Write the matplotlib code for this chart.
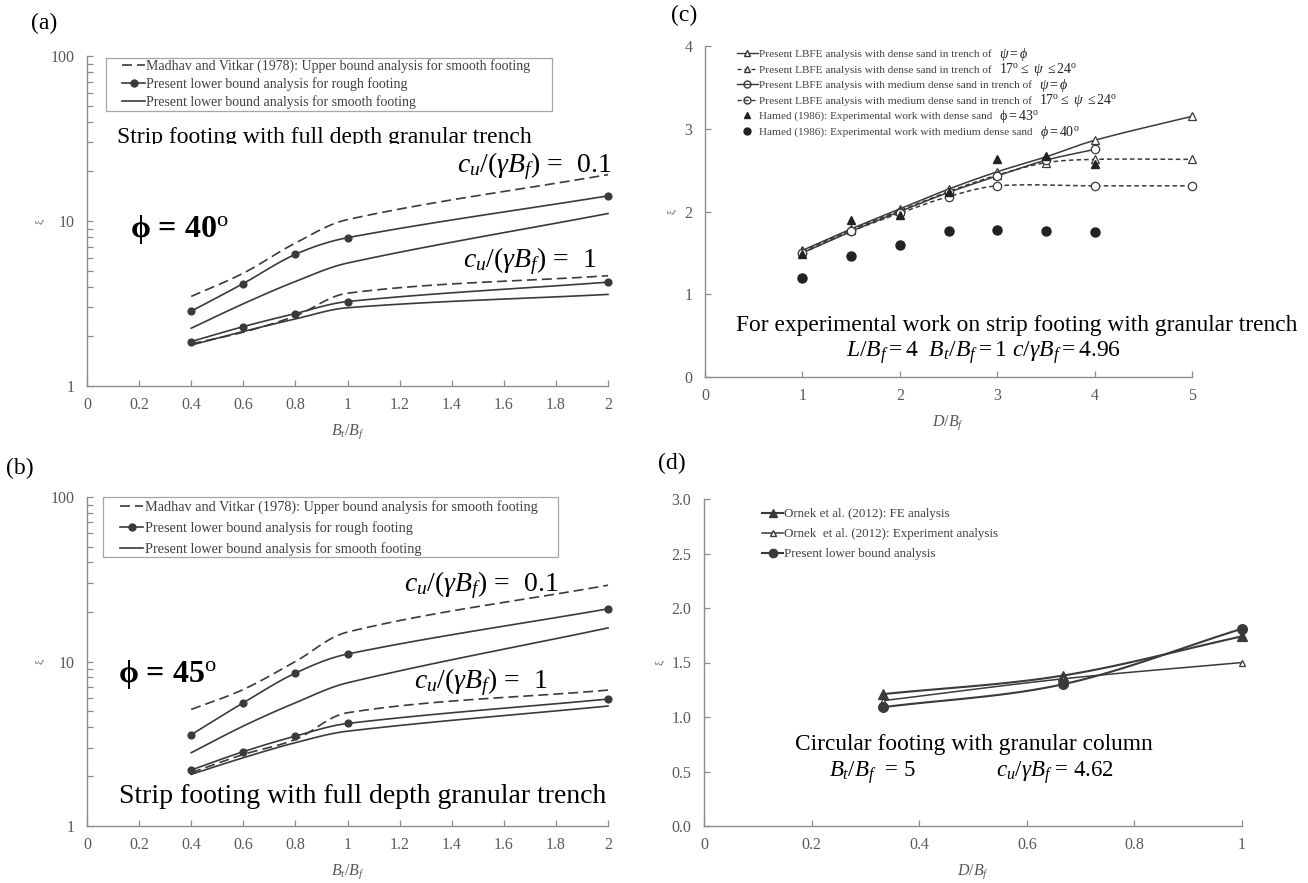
import numpy as np
import matplotlib
matplotlib.use("Agg")
import matplotlib.pyplot as plt
from matplotlib.lines import Line2D
from matplotlib.patches import Rectangle
from matplotlib.transforms import Bbox, TransformedBbox

plt.rcParams['font.family'] = ['Liberation Serif', 'DejaVu Serif']
plt.rcParams['mathtext.fontset'] = 'custom'
plt.rcParams['mathtext.rm'] = 'Liberation Serif'
plt.rcParams['mathtext.it'] = 'Liberation Serif:italic'
plt.rcParams['mathtext.bf'] = 'Liberation Serif:bold'

# ---------------- data ----------------
# (a) phi = 40
xa = [0.4, 0.6, 0.8, 1.0, 2.0]
a_upper_01 = [3.49, 4.83, 7.35, 10.2, 19.1]
a_rough_01 = [2.84, 4.18, 6.28, 7.92, 14.2]
a_smooth_01 = [2.24, 3.15, 4.30, 5.56, 11.1]
a_upper_1 = [1.80, 2.12, 2.66, 3.65, 4.66]
a_rough_1 = [1.86, 2.29, 2.75, 3.25, 4.26]
a_smooth_1 = [1.77, 2.14, 2.55, 2.98, 3.59]

# (b) phi = 45
xb = [0.4, 0.6, 0.8, 1.0, 2.0]
b_upper_01 = [5.11, 6.76, 10.0, 15.1, 29.1]
b_rough_01 = [3.59, 5.61, 8.5, 11.1, 20.9]
b_smooth_01 = [2.79, 4.05, 5.61, 7.42, 16.0]
b_upper_1 = [2.11, 2.72, 3.36, 4.88, 6.70]
b_rough_1 = [2.19, 2.83, 3.52, 4.20, 5.91]
b_smooth_1 = [2.06, 2.60, 3.21, 3.77, 5.36]

# (c) experimental comparison
xc_dense = [1, 1.5, 2, 2.5, 3, 3.5, 4, 5]
c_dense_psi = [1.53, 1.79, 2.03, 2.27, 2.48, 2.66, 2.86, 3.15]
c_dense_1724 = [1.52, 1.78, 2.01, 2.24, 2.44, 2.59, 2.63, 2.63]
xc_med_psi = [1, 1.5, 2, 2.5, 3, 3.5, 4]
c_med_psi = [1.50, 1.76, 2.00, 2.23, 2.43, 2.62, 2.75]
xc_med_1724 = [1, 1.5, 2, 2.5, 3, 4, 5]
c_med_1724 = [1.50, 1.76, 1.98, 2.18, 2.31, 2.31, 2.31]
xc_exp = [1, 1.5, 2, 2.5, 3, 3.5, 4]
c_hamed_dense = [1.49, 1.90, 1.96, 2.24, 2.64, 2.67, 2.58]
c_hamed_med = [1.20, 1.46, 1.59, 1.76, 1.78, 1.77, 1.75]

# (d) circular footing
xd = [0.333, 0.667, 1.0]
d_fe = [1.21, 1.38, 1.74]
d_exp = [1.15, 1.35, 1.50]
d_present = [1.09, 1.30, 1.81]

legend_ab = ['Madhav and Vitkar (1978): Upper bound analysis for smooth footing',
             'Present lower bound analysis for rough footing',
             'Present lower bound analysis for smooth footing']
legend_c = ['Present LBFE analysis with dense sand in trench of',
            'Present LBFE analysis with dense sand in trench of',
            'Present LBFE analysis with medium dense sand in trench of',
            'Present LBFE analysis with medium dense sand in trench of',
            'Hamed (1986): Experimental work with dense sand',
            'Hamed (1986): Experimental work with medium dense sand']
legend_c_math = [r'$\psi = \phi$', r'$17^{\rm o} \leq\ \psi\ \leq 24^{\rm o}$',
                 r'$\psi = \phi$', r'$17^{\rm o} \leq\ \psi\ \leq 24^{\rm o}$',
                 r'$\mathrm{\phi} = 43^{\rm o}$', r'$\phi = 40^{\rm o}$']
legend_d = ['Ornek et al. (2012): FE analysis',
            'Ornek  et al. (2012): Experiment analysis',
            'Present lower bound analysis']

# ---------------- style ----------------
LC = '#3a3a3a'
AX = '#8c8c8c'
TK = '#595959'
W, H = 1308, 883
fig = plt.figure(figsize=(W / 100, H / 100), dpi=100)


def add_axes(x0, x1, ytop, ybot):
    return fig.add_axes([x0 / W, (H - ybot) / H, (x1 - x0) / W, (ybot - ytop) / H])


def style(ax):
    for s in ['top', 'right']:
        ax.spines[s].set_visible(False)
    for s in ['left', 'bottom']:
        ax.spines[s].set_color(AX)
        ax.spines[s].set_linewidth(1.0)
    ax.tick_params(which='both', direction='in', length=4, width=0.9, color=AX,
                   labelcolor=TK, labelsize=11.5)
    ax.tick_params(axis='x', pad=8)
    ax.tick_params(axis='y', pad=9)


def smooth(ax, x, y, n=30):
    """Smoothed (Bezier) rendering of the line through the data points, in display space."""
    pts = ax.transData.transform(np.column_stack([x, y]))
    P = np.vstack([pts[0], pts, pts[-1]])
    out = [pts[:1]]
    t = np.linspace(0, 1, n)[1:, None]
    for i in range(1, len(P) - 2):
        p0, p1, p2, p3 = P[i - 1], P[i], P[i + 1], P[i + 2]
        d01 = np.hypot(*(p1 - p0))
        d12 = np.hypot(*(p2 - p1))
        d23 = np.hypot(*(p3 - p2))
        c1 = p1 + (p2 - p0) * d12 / (d01 + d12) / 3
        c2 = p2 - (p3 - p1) * d12 / (d12 + d23) / 3
        seg = (1 - t) ** 3 * p1 + 3 * (1 - t) ** 2 * t * c1 + 3 * (1 - t) * t ** 2 * c2 + t ** 3 * p2
        out.append(seg)
    c = ax.transData.inverted().transform(np.vstack(out))
    return c[:, 0], c[:, 1]


def sline(ax, x, y, ls='-', marker=None, ms=5, mfc=LC, lw=1.2):
    sx, sy = smooth(ax, x, y)
    ax.plot(sx, sy, ls=ls, color=LC, lw=lw, clip_on=False)
    if marker:
        ax.plot(x, y, ls='none', marker=marker, ms=ms, mfc=mfc, mec=LC, mew=0.9, clip_on=False)


DASH = (0, (6, 3))


def log_panel(ax, x, up01, r01, s01, up1, r1, s1, phi_txt, phi_pos, t01, t1, strip_pos, strip_fs,
              box, leg_anchor, leg_fs, leg_ls, clip=False):
    style(ax)
    ax.set_yscale('log')
    ax.set_xlim(0, 2)
    ax.set_ylim(1, 100)
    ax.set_xticks(np.arange(0, 2.01, 0.2))
    ax.set_xticklabels(['0', '0.2', '0.4', '0.6', '0.8', '1', '1.2', '1.4', '1.6', '1.8', '2'])
    ax.set_yticks([1, 10, 100])
    ax.set_yticklabels(['1', '10', '100'])
    ax.yaxis.set_minor_locator(matplotlib.ticker.LogLocator(base=10, subs=np.arange(2, 10)))
    ax.yaxis.set_minor_formatter(matplotlib.ticker.NullFormatter())
    for yy, ls, mk in [(up01, DASH, None), (r01, '-', 'o'), (s01, '-', None),
                       (up1, DASH, None), (r1, '-', 'o'), (s1, '-', None)]:
        sline(ax, x, yy, ls=ls, marker=mk)
    ax.set_xlabel(r'$B_t/B_f$', color=TK, fontsize=11.5, labelpad=7)
    ax.set_ylabel('ξ', color=TK, fontsize=8, labelpad=4)
    # legend frame drawn as a box, legend itself frameless inside it
    ax.add_patch(Rectangle((box[0], box[1]), box[2], box[3], transform=ax.transAxes, fill=False,
                           edgecolor='#a6a6a6', lw=0.9, clip_on=False))
    handles = [Line2D([], [], color=LC, ls=DASH, lw=1.2),
               Line2D([], [], color=LC, ls='-', lw=1.2, marker='o', ms=5),
               Line2D([], [], color=LC, ls='-', lw=1.2)]
    leg = ax.legend(handles, legend_ab, loc='upper left', bbox_to_anchor=leg_anchor,
                    fontsize=leg_fs, frameon=False, handlelength=1.6, handletextpad=0.1,
                    labelspacing=leg_ls, borderpad=0, borderaxespad=0)
    for t in leg.get_texts():
        t.set_color('#404040')
    ax.text(phi_pos[0], phi_pos[1], phi_txt, transform=ax.transAxes, fontsize=23,
            fontweight='bold', va='center', ha='left')
    ax.text(t01[0], t01[1], r'$c_u/(\gamma B_f)$ =  0.1', transform=ax.transAxes, fontsize=20,
            va='center', ha='left')
    ax.text(t1[0], t1[1], r'$c_u/(\gamma B_f)$ =  1', transform=ax.transAxes, fontsize=20,
            va='center', ha='left')
    st = ax.text(strip_pos[0], strip_pos[1], 'Strip footing with full depth granular trench',
                 transform=ax.transAxes, fontsize=strip_fs, va='baseline', ha='left')
    if clip:
        st.set_clip_on(True)
        st.set_clip_box(TransformedBbox(Bbox([[0, strip_pos[1] - 0.004], [1.2, 1.2]]), ax.transAxes))


# (a)
axa = add_axes(87, 608, 56, 386)
log_panel(axa, xa, a_upper_01, a_rough_01, a_smooth_01, a_upper_1, a_rough_1, a_smooth_1,
          r'$\mathbf{\phi}$ = 40$^{\rm o}$', (0.082, 0.473), (0.71, 0.667), (0.721, 0.379),
          (0.057, 0.736), 17,
          box=(0.036, 0.833, 0.857, 0.161), leg_anchor=(0.068, 0.99), leg_fs=10, leg_ls=0.3,
          clip=True)
# (b)
axb = add_axes(87, 608, 497, 826)
log_panel(axb, xb, b_upper_01, b_rough_01, b_smooth_01, b_upper_1, b_rough_1, b_smooth_1,
          r'$\mathbf{\phi}$ = 45$^{\rm o}$', (0.059, 0.459), (0.609, 0.733), (0.628, 0.438),
          (0.061, 0.07), 20,
          box=(0.031, 0.818, 0.873, 0.182), leg_anchor=(0.064, 0.99), leg_fs=10.3, leg_ls=0.48)

# (c)
axc = add_axes(705, 1192, 46, 377)
style(axc)
axc.set_xlim(0, 5)
axc.set_ylim(0, 4)
axc.set_xticks(range(0, 6))
axc.set_yticks(range(0, 5))
sline(axc, xc_dense, c_dense_psi, ls='-', marker='^', ms=6, mfc='white', lw=1.1)
sline(axc, xc_dense, c_dense_1724, ls=(0, (3, 2)), marker='^', ms=6, mfc='white', lw=1.1)
sline(axc, xc_med_psi, c_med_psi, ls='-', marker='o', ms=6, mfc='white', lw=1.1)
sline(axc, xc_med_1724, c_med_1724, ls=(0, (3, 2)), marker='o', ms=6, mfc='white', lw=1.1)
axc.plot(xc_exp, c_hamed_dense, ls='none', marker='^', ms=6, color='#222222')
axc.plot(xc_exp, c_hamed_med, ls='none', marker='o', ms=6.5, color='#222222')
axc.set_xlabel(r'$D/B_f$', color=TK, fontsize=11.5, labelpad=7)
axc.set_ylabel('ξ', color=TK, fontsize=8, labelpad=6)
hc = [Line2D([], [], color=LC, ls='-', lw=1.0, marker='^', ms=5, mfc='white', mec=LC),
      Line2D([], [], color=LC, ls=(0, (3, 2)), lw=1.0, marker='^', ms=5, mfc='white', mec=LC),
      Line2D([], [], color=LC, ls='-', lw=1.0, marker='o', ms=5, mfc='none', mec=LC),
      Line2D([], [], color=LC, ls=(0, (3, 2)), lw=1.0, marker='o', ms=5, mfc='none', mec=LC),
      Line2D([], [], color='#222222', ls='none', marker='^', ms=5),
      Line2D([], [], color='#222222', ls='none', marker='o', ms=5)]
legc = axc.legend(hc, legend_c, loc='upper left', bbox_to_anchor=(0.065, 0.99), fontsize=8.1,
                  frameon=False, handlelength=1.9, handletextpad=0.1, labelspacing=0.5,
                  borderpad=0, borderaxespad=0)
for t in legc.get_texts():
    t.set_color('#404040')
axc.text(0.063, 0.157, 'For experimental work on strip footing with granular trench',
         transform=axc.transAxes, fontsize=16.8, va='center', ha='left', clip_on=False)
axc.text(0.29, 0.0725, r'$L/B_f = 4\ \ B_t/B_f = 1\ c/\gamma B_f = 4.96$',
         transform=axc.transAxes, fontsize=17, va='center', ha='left')

# (d)
axd = add_axes(704, 1242, 499, 826)
style(axd)
axd.set_xlim(0, 1)
axd.set_ylim(0, 3)
axd.set_xticks(np.arange(0, 1.01, 0.2))
axd.set_xticklabels(['0', '0.2', '0.4', '0.6', '0.8', '1'])
axd.set_yticks(np.arange(0, 3.01, 0.5))
axd.set_yticklabels(['0.0', '0.5', '1.0', '1.5', '2.0', '2.5', '3.0'])
sline(axd, xd, d_fe, marker='^', ms=7, lw=1.5)
sline(axd, xd, d_exp, marker='^', ms=5, mfc='white', lw=1.1)
sline(axd, xd, d_present, marker='o', ms=7, lw=1.5)
axd.set_xlabel(r'$D/B_f$', color=TK, fontsize=11.5, labelpad=7)
axd.set_ylabel('ξ', color=TK, fontsize=8, labelpad=5)
hd = [Line2D([], [], color=LC, lw=1.5, marker='^', ms=6),
      Line2D([], [], color=LC, lw=1.1, marker='^', ms=4, mfc='white'),
      Line2D([], [], color=LC, lw=1.5, marker='o', ms=6)]
legd = axd.legend(hd, legend_d, loc='upper left', bbox_to_anchor=(0.108, 0.972), fontsize=9.4,
                  frameon=False, handlelength=1.6, handletextpad=0.05, labelspacing=0.6,
                  borderpad=0, borderaxespad=0)
for t in legd.get_texts():
    t.set_color('#404040')
axd.text(0.169, 0.248, 'Circular footing with granular column', transform=axd.transAxes,
         fontsize=16.8, va='center', ha='left')
axd.text(0.232, 0.162, r'$B_t/B_f$  = 5', transform=axd.transAxes, fontsize=16.5, va='center', ha='left')
axd.text(0.543, 0.162, r'$c_u/\gamma B_f$ = 4.62', transform=axd.transAxes, fontsize=16.5,
         va='center', ha='left')

# panel labels
for lab, px, py in [('(a)', 31, 23), ('(b)', 6, 468), ('(c)', 671, 15), ('(d)', 658, 463)]:
    fig.text(px / W, 1 - py / H, lab, fontsize=17, va='center', ha='left')

# math annotations appended to the legend rows of (c)
fig.canvas.draw()
r = fig.canvas.get_renderer()
for t, m in zip(legc.get_texts(), legend_c_math):
    bb = t.get_window_extent(r)
    fig.text((bb.x1 + 7) / W, (bb.y0 + bb.y1) / 2 / H, m, fontsize=10, va='center', ha='left',
             color='#222222')

fig.savefig('out.png', dpi=100)
